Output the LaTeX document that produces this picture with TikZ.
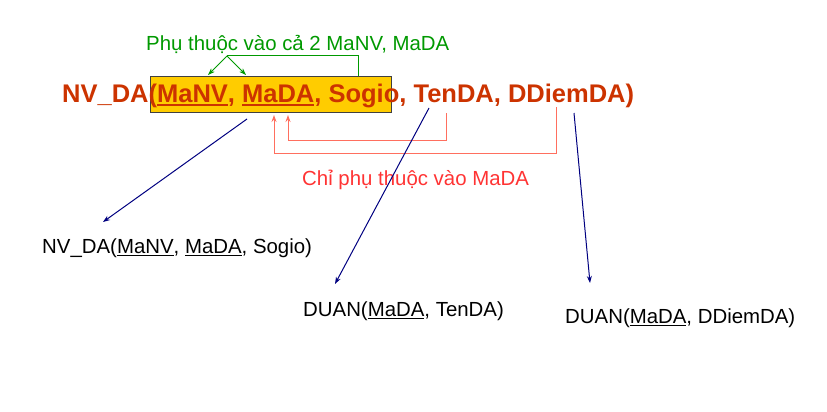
\documentclass[tikz,border=0pt]{standalone}
\usepackage{fontspec}
\setmainfont{Liberation Sans}
\usetikzlibrary{arrows.meta}
\definecolor{titlered}{HTML}{CC3300}
\definecolor{boxyellow}{HTML}{FFCC00}
\definecolor{grn}{HTML}{009900}
\definecolor{lred}{HTML}{FF3333}
\definecolor{salmon}{HTML}{FF6F5F}
\definecolor{navy}{HTML}{000080}
\newsavebox\ulbox
\newcommand\myul[3]{\leavevmode\sbox\ulbox{#3}\rlap{\rule[-#2]{\wd\ulbox}{#1}}\usebox\ulbox}
\begin{document}
\begin{tikzpicture}[x=1pt,y=-1pt,
  txt/.style={anchor=base west,inner sep=0pt,font=\fontsize{20.4}{24}\selectfont},
  arr/.style={-{Stealth[length=7pt,width=5pt]}},
  grnline/.style={grn,line width=1pt},
  redline/.style={salmon,line width=1pt},
  blueline/.style={navy,line width=1pt}]
\useasboundingbox (0,0) rectangle (827,412);
% yellow box
\node[draw=black!75,fill=boxyellow,line width=1.2pt,inner sep=0pt,minimum width=241pt,minimum height=36pt,anchor=north west] (box) at (150,76) {};
% title
\node[anchor=base west,inner sep=0pt,text=titlered,font=\bfseries\fontsize{25.5}{30}\selectfont] (title) at (62,102)
  {NV\_DA(\myul{1.8pt}{3.6pt}{MaNV}, \myul{1.8pt}{3.6pt}{MaDA}, Sogio, TenDA, DDiemDA)};
% labels
\node[txt,text=grn] (glabel) at (146,51) {Phụ thuộc vào cả 2 MaNV, MaDA};
\node[txt,text=lred] (rlabel) at (302,185) {Chỉ phụ thuộc vào MaDA};
\node[txt] (r1) at (42,253) {NV\_DA(\myul{1pt}{2.5pt}{MaNV}, \myul{1pt}{2.5pt}{MaDA}, Sogio)};
\node[txt] (r2) at (303,316) {DUAN(\myul{1pt}{2.5pt}{MaDA}, TenDA)};
\node[txt] (r3) at (565,323) {DUAN(\myul{1pt}{2.5pt}{MaDA}, DDiemDA)};
% coordinates
\coordinate (gs) at (358,76);
\coordinate (gk) at (227,56);
\coordinate (g1) at (208,75);
\coordinate (g2) at (246,75);
\coordinate (ts) at (446,113);
\coordinate (ds) at (556,107);
\coordinate (m1) at (288,115);
\coordinate (m2) at (274,115);
\coordinate (b1s) at (247,119);
\coordinate (b1e) at (103,222);
\coordinate (b2s) at (429,108);
\coordinate (b2e) at (335,284);
\coordinate (b3s) at (574,113);
\coordinate (b3e) at (590,283);
% green connector
\draw[grnline] (gs) |- (gk);
\draw[grnline,arr] (gk) -- (g1);
\draw[grnline,arr] (gk) -- (g2);
% red connectors
\draw[redline,arr] (ts) -- (446,140) -| (m1);
\draw[redline,arr] (ds) -- (556,153) -| (m2);
% blue arrows
\draw[blueline,arr] (b1s) -- (b1e);
\draw[blueline,arr] (b2s) -- (b2e);
\draw[blueline,arr] (b3s) -- (b3e);
\end{tikzpicture}
\end{document}
